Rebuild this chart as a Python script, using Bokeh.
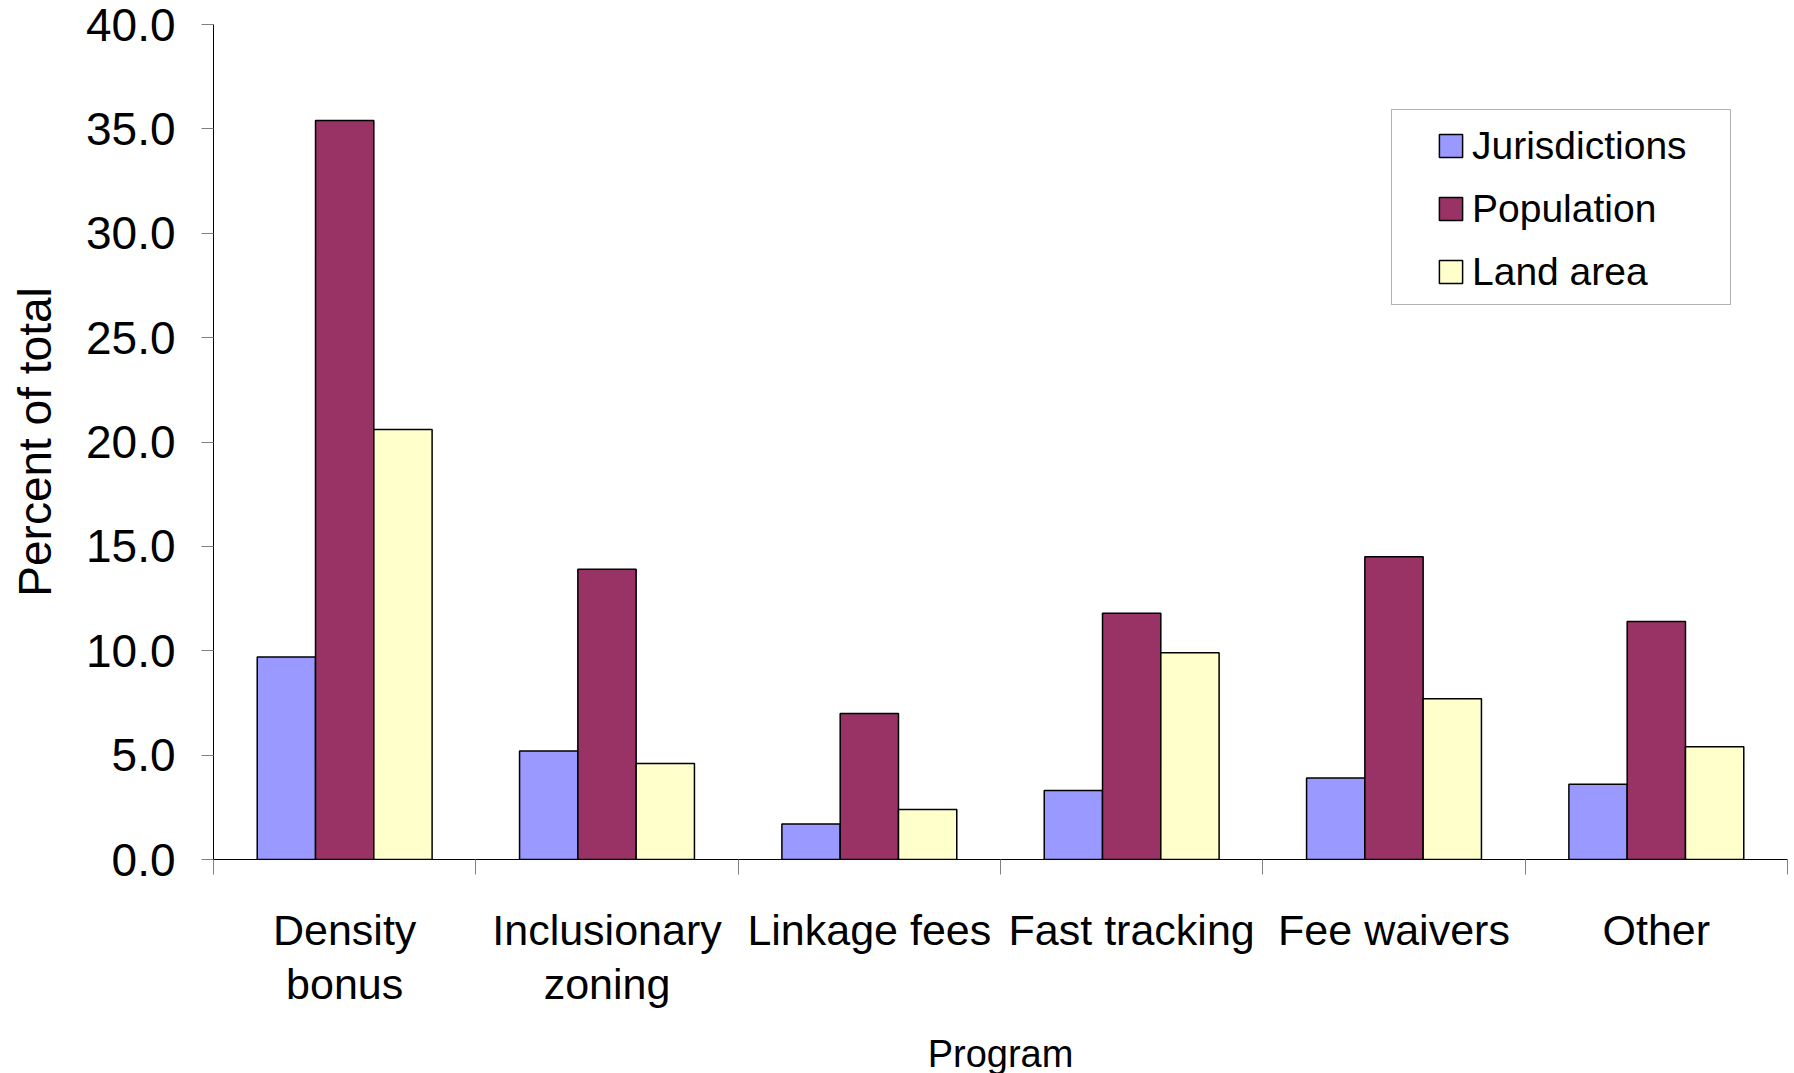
from bokeh.plotting import figure
from bokeh.models import Range1d, FixedTicker, Legend, LegendItem, BoxAnnotation, NumeralTickFormatter
from bokeh.embed import file_html
from bokeh.resources import INLINE

programs = ["Density\nbonus", "Inclusionary\nzoning", "Linkage fees", "Fast tracking", "Fee waivers", "Other"]
jurisdictions = [9.7, 5.2, 1.7, 3.3, 3.9, 3.6]
population = [35.4, 13.9, 7.0, 11.8, 14.5, 11.4]
land_area = [20.6, 4.6, 2.4, 9.9, 7.7, 5.4]
series_names = ["Jurisdictions", "Population", "Land area"]
colors = ["#9999FF", "#993366", "#FFFFCC"]
y_ticks = [0, 5, 10, 15, 20, 25, 30, 35, 40]

FONT = "Liberation Sans, Arial, sans-serif"
n = len(programs)
bw = 1 / 4.5

p = figure(frame_width=1574, frame_height=835, output_backend="svg", toolbar_location=None,
           x_range=Range1d(0, n), y_range=Range1d(0, 40),
           min_border_left=213, min_border_right=3, min_border_top=24, min_border_bottom=0)
p.outline_line_color = None
p.xgrid.visible = False
p.ygrid.visible = False
p.background_fill_color = "white"
p.border_fill_color = "white"

renderers = []
for k, (vals, col) in enumerate(zip([jurisdictions, population, land_area], colors)):
    xs = [i + 0.5 + (k - 1) * bw for i in range(n)]
    r = p.vbar(x=xs, top=vals, bottom=0, width=bw, fill_color=col,
               line_color="black", line_width=1.5)
    renderers.append(r)

# x axis
xa = p.xaxis[0]
xa.ticker = FixedTicker(ticks=[i + 0.5 for i in range(n)], minor_ticks=list(range(n + 1)))
xa.major_label_overrides = {i + 0.5: lab for i, lab in enumerate(programs)}
xa.major_tick_line_color = None
xa.major_tick_out = 0
xa.major_tick_in = 0
xa.minor_tick_out = 15
xa.minor_tick_in = 0
xa.minor_tick_line_color = "#808080"
xa.axis_line_color = "black"
xa.major_label_text_font = FONT
xa.major_label_text_font_size = "43px"
xa.major_label_text_line_height = 1.13
xa.major_label_text_color = "black"
xa.major_label_standoff = 31
xa.axis_label = "Program"
xa.axis_label_text_font = FONT
xa.axis_label_text_font_size = "38px"
xa.axis_label_text_font_style = "normal"
xa.axis_label_text_color = "black"
xa.axis_label_standoff = 22

# y axis
ya = p.yaxis[0]
ya.ticker = FixedTicker(ticks=y_ticks, minor_ticks=[])
ya.formatter = NumeralTickFormatter(format="0.0")
ya.major_tick_out = 12
ya.major_tick_in = 0
ya.major_tick_line_color = "#808080"
ya.axis_line_color = "black"
ya.major_label_text_font = FONT
ya.major_label_text_font_size = "46px"
ya.major_label_text_color = "black"
ya.major_label_standoff = 26
ya.axis_label = "Percent of total"
ya.axis_label_text_font = FONT
ya.axis_label_text_font_size = "46px"
ya.axis_label_text_font_style = "normal"
ya.axis_label_text_color = "black"
ya.axis_label_standoff = 22

# legend
legend = Legend(items=[LegendItem(label=nm, renderers=[r]) for nm, r in zip(series_names, renderers)],
                location=(1223, 565), orientation="vertical",
                glyph_width=29, glyph_height=29, label_height=45, spacing=18, padding=13,
                label_standoff=7, label_text_font=FONT, label_text_font_size="39px",
                label_text_color="black", border_line_color=None, background_fill_alpha=0)
p.add_layout(legend, "center")

box = BoxAnnotation(left=1178, right=1517, top=750, bottom=555,
                    left_units="screen", right_units="screen", top_units="screen", bottom_units="screen",
                    fill_color=None, fill_alpha=0, line_color="black", line_width=1)
p.add_layout(box)

open("out.html", "w").write(file_html(p, INLINE))
